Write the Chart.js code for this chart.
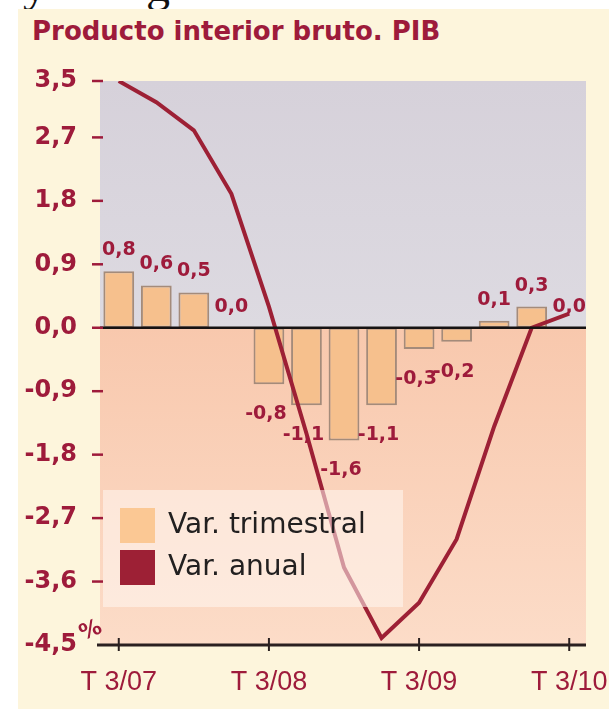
<!DOCTYPE html>
<html>
<head>
<meta charset="utf-8">
<script src="https://cdn.jsdelivr.net/npm/chart.js@4.4.0/dist/chart.umd.min.js"></script>
<style>
html, body { margin: 0; padding: 0; background: #fff; }
#wrap { position: relative; width: 609px; height: 709px; overflow: hidden; background: #fff; }
#panel { position: absolute; left: 18px; top: 9px; right: 0; bottom: 0; background: #fdf5dc; }
#frag { position: absolute; left: 0; top: 0; width: 609px; height: 9px; overflow: hidden;
        font-family: 'Liberation Serif', serif; font-size: 48px; line-height: 48px; color: #111; }
#frag span { position: absolute; top: -39px; }
#title { position: absolute; left: 32px; top: 18px; font: bold 26px 'DejaVu Sans'; line-height: 26px;
         color: #9e1b3b; white-space: nowrap; }
canvas { position: absolute; left: 0; top: 0; }
</style>
</head>
<body>
<div id="wrap">
  <div id="panel"></div>
  <div id="frag"><span style="left:23px">y</span><span style="left:146px">g</span></div>
  <div id="title">Producto interior bruto. PIB</div>
  <canvas id="pib" width="609" height="709"></canvas>
</div>
<script>
// quarters T 3/07 .. T 3/10
const quarters = ['T 3/07', 'T 4/07', 'T 1/08', 'T 2/08', 'T 3/08', 'T 4/08', 'T 1/09',
                  'T 2/09', 'T 3/09', 'T 4/09', 'T 1/10', 'T 2/10', 'T 3/10'];
const shownQuarters = ['T 3/07', 'T 3/08', 'T 3/09', 'T 3/10'];
const varTrimestral = [0.8, 0.6, 0.5, 0.0, -0.8, -1.1, -1.6, -1.1, -0.3, -0.2, 0.1, 0.3, 0.0];
const varAnual = [3.5, 3.2, 2.8, 1.9, 0.3, -1.5, -3.4, -4.4, -3.9, -3.0, -1.4, 0.0, 0.2];
const yTicks = [3.5, 2.7, 1.8, 0.9, 0, -0.9, -1.8, -2.7, -3.6, -4.5];

const RED = '#9e1b3b';
const fmt = v => v.toFixed(1).replace('.', ',');

const pibDecor = {
    id: 'pibDecor',
    beforeDatasetsDraw(chart) {
        const { ctx, chartArea: a, scales: { y } } = chart;
        const y0 = y.getPixelForValue(0);
        ctx.save();
        let g = ctx.createLinearGradient(0, a.top, 0, y0);
        g.addColorStop(0, '#d6d1da');
        g.addColorStop(1, '#dddae1');
        ctx.fillStyle = g;
        ctx.fillRect(a.left, a.top, a.right - a.left - 2, y0 - a.top);
        g = ctx.createLinearGradient(0, y0, 0, a.bottom);
        g.addColorStop(0, '#f8c8ad');
        g.addColorStop(1, '#fcdcc8');
        ctx.fillStyle = g;
        ctx.fillRect(a.left, y0, a.right - a.left - 2, a.bottom - y0);
        ctx.restore();
    },
    afterDatasetsDraw(chart) {
        const { ctx, chartArea: a, scales: { x, y } } = chart;
        const y0 = y.getPixelForValue(0);
        ctx.save();

        // zero line
        ctx.strokeStyle = '#161212';
        ctx.lineWidth = 2.5;
        ctx.beginPath(); ctx.moveTo(a.left, y0); ctx.lineTo(a.right - 2, y0); ctx.stroke();

        // bottom axis + year ticks
        ctx.strokeStyle = '#2a2020';
        ctx.lineWidth = 3;
        ctx.beginPath(); ctx.moveTo(a.left - 3, a.bottom); ctx.lineTo(a.right - 2, a.bottom); ctx.stroke();
        ctx.lineWidth = 2;
        quarters.forEach((q, i) => {
            if (!shownQuarters.includes(q)) return;
            const px = x.getPixelForValue(i);
            ctx.beginPath(); ctx.moveTo(px, a.bottom - 7); ctx.lineTo(px, a.bottom + 6); ctx.stroke();
        });

        // y tick dashes
        ctx.strokeStyle = RED;
        ctx.lineWidth = 2.5;
        yTicks.forEach(v => {
            const py = y.getPixelForValue(v);
            if (v === -4.5) return;
            ctx.beginPath(); ctx.moveTo(a.left - 8, py); ctx.lineTo(a.left + 3, py); ctx.stroke();
        });

        // bar value labels
        ctx.fillStyle = RED;
        ctx.font = 'bold 19px "DejaVu Sans"';
        ctx.textAlign = 'center';
        ctx.textBaseline = 'middle';
        chart.getDatasetMeta(0).data.forEach((bar, i) => {
            const v = varTrimestral[i];
            if (v >= 0) ctx.fillText(fmt(v), bar.x, bar.y - 21);
            else ctx.fillText(fmt(v), bar.x - 3, bar.y + 30);
        });

        // % label
        ctx.save();
        ctx.translate(a.left - 9, a.bottom - 14);
        ctx.rotate(-0.4);
        ctx.font = 'bold 22px "DejaVu Sans"';
        ctx.fillText('%', 0, 0);
        ctx.restore();

        // legend
        const lx = a.left + 3, ly = 490;
        ctx.fillStyle = 'rgba(255, 247, 242, 0.55)';
        ctx.fillRect(lx, ly, 300, 117);
        const ds = chart.data.datasets;
        ctx.font = '28px "DejaVu Sans"';
        ctx.textAlign = 'left';
        ds.forEach((d, i) => {
            const sy = ly + 18 + i * 42;
            ctx.fillStyle = i === 0 ? '#fbc894' : d.borderColor;
            ctx.fillRect(lx + 17, sy, 35, 35);
            ctx.fillStyle = '#222020';
            ctx.fillText(d.label, lx + 65, sy + 18);
        });
        ctx.restore();
    }
};

new Chart(document.getElementById('pib'), {
    data: {
        labels: quarters,
        datasets: [
            { type: 'bar', label: 'Var. trimestral', data: varTrimestral,
              backgroundColor: '#f6c08d', borderColor: '#a48b7a', borderWidth: 2,
              borderSkipped: false, categoryPercentage: 1, barPercentage: 0.82, order: 2 },
            { type: 'line', label: 'Var. anual', data: varAnual,
              borderColor: '#9d2035', backgroundColor: '#9d2035', borderWidth: 4,
              pointRadius: 0, tension: 0, order: 1 }
        ]
    },
    options: {
        responsive: false, animation: false,
        layout: { padding: { top: 81, right: 21, left: 0, bottom: 0 } },
        plugins: { legend: { display: false }, tooltip: { enabled: false } },
        scales: {
            x: {
                offset: true,
                grid: { display: false, drawTicks: false },
                border: { display: false },
                ticks: {
                    autoSkip: false, maxRotation: 0, padding: 21, color: RED,
                    font: { family: 'Liberation Sans', size: 27 },
                    callback: (v, i) => shownQuarters.includes(quarters[i]) ? quarters[i] : ''
                },
                afterFit: s => { s.height = 64; s.paddingLeft = 0; s.paddingRight = 0; }
            },
            y: {
                min: -4.5, max: 3.5,
                afterBuildTicks: s => { s.ticks = yTicks.map(v => ({ value: v })); },
                grid: { display: false, drawTicks: false },
                border: { display: false },
                ticks: {
                    padding: 23, color: RED,
                    font: { family: 'DejaVu Sans', weight: 'bold', size: 24 },
                    callback: v => fmt(v)
                },
                afterFit: s => { s.width = 100; s.paddingTop = 0; s.paddingBottom = 0; }
            }
        }
    },
    plugins: [pibDecor]
});
</script>
</body>
</html>
